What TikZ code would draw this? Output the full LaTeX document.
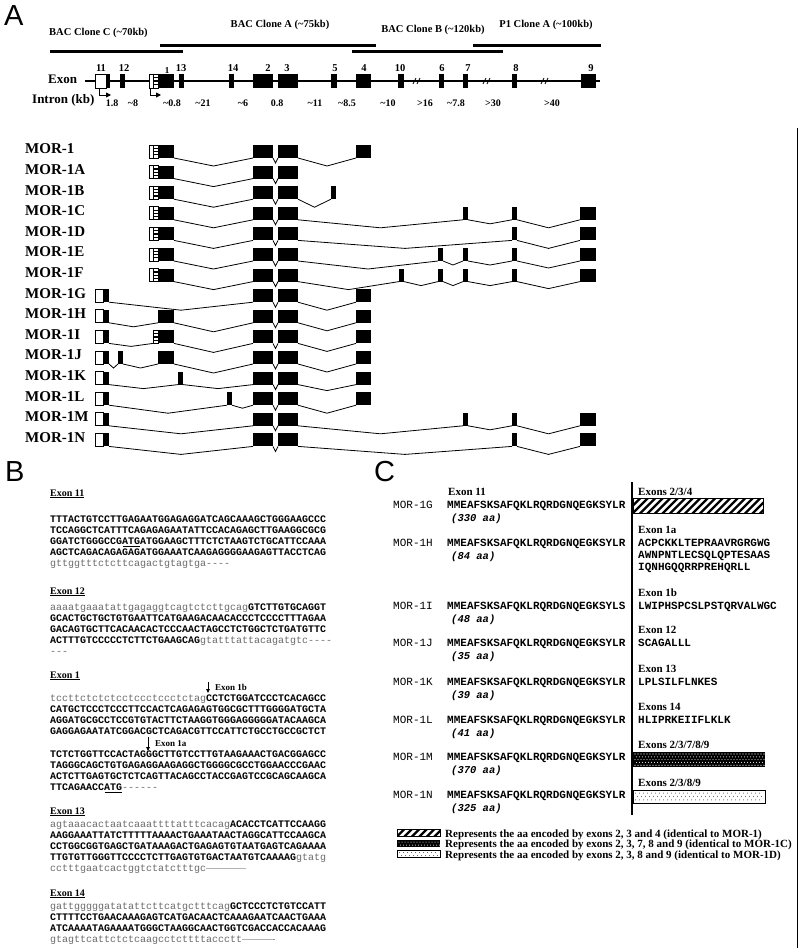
\documentclass[tikz,border=0pt]{standalone}
\usepackage{fontspec}
\setmainfont{Liberation Serif}
\setmonofont{Liberation Mono}
\newfontfamily\sfL{Liberation Sans}
\usetikzlibrary{arrows.meta}
\definecolor{intgray}{gray}{0.42}
\newcommand\fs[1]{\fontsize{#1}{#1}\selectfont}
\newcommand\gr[1]{{\mdseries\color{intgray}#1}}
\newcommand\mbx[2]{\fill (#1,0) rectangle (#2,13);}
\newcommand\mlk[3]{\draw[intr] (#1,13) -- ({(#1+#2)/2},{13+#3}) -- (#2,13);}
\newcommand\eEl{\draw[exo] (95,0) rectangle (103,13); \fill (103,0) rectangle (109,13);}
\newcommand\hatchE[2]{\draw[exo] (#1,0) rectangle (158,13); \draw[exo] (#2,0) -- (#2,13); \foreach \yy in {3.3,6.5,9.7} {\draw[line width=1.2pt] (#2,\yy) -- (158,\yy);}}
\newcommand\eOneH{\hatchE{149}{153}\fill (158,0) rectangle (174,13);}
\newcommand\eTT{\mbx{253}{273}\mbx{278}{298}\mlk{273}{278}{5}}
\newcommand\mrow[2]{\begin{scope}[shift={(0,{145+20.6*#1})}]#2\end{scope}}
\newcommand\hatchbox[4]{\begin{scope}\clip (#1,#2) rectangle (#3,#4);
  \foreach \k in {0,...,22} {\draw[line width=2.2pt] ({#1-16+7.5*\k},{#4+1}) -- ++(17,-17);}
  \end{scope}\draw[line width=0.8pt] (#1,#2) rectangle (#3,#4);}
\begin{document}
\begin{tikzpicture}[x=1pt,y=-1pt,
  lab/.style={inner sep=0pt,anchor=base west},
  cen/.style={inner sep=0pt,anchor=center},
  exo/.style={draw=black,line width=0.8pt,fill=white},
  intr/.style={line width=0.8pt},
  clone/.style={cen,font=\bfseries\fs{10.5}},
  enum/.style={cen,font=\bfseries\fs{10.5}},
  inum/.style={cen,font=\bfseries\fs{10}},
  trl/.style={inner sep=0pt,anchor=west,font=\bfseries\fs{15}},
  hdr/.style={lab,font=\bfseries\fs{10}},
  sq/.style={lab,font=\ttfamily\bfseries\fs{10}},
  cn/.style={lab,font=\ttfamily\fs{11}},
  cb/.style={lab,font=\ttfamily\bfseries\fs{11}},
  ci/.style={lab,font=\ttfamily\bfseries\itshape\fs{10.5}},
  ch/.style={lab,font=\bfseries\fs{11}},
  leg/.style={lab,font=\bfseries\fs{11}},
  pl/.style={lab,font=\sfL\fs{29}}]
\useasboundingbox (0,0) rectangle (800,948);
\fill[white] (0,0) rectangle (800,948);
\draw[line width=1.5pt] (797.5,128) -- (797.5,948);
% ---------- Panel A ----------
\node[pl] (pA) at (4,25) {A};
\node[clone] (cC) at (98.5,33) {BAC Clone C (\textasciitilde70kb)};
\node[clone] (cA) at (280,25) {BAC Clone A (\textasciitilde75kb)};
\node[clone] (cB) at (433,30) {BAC Clone B (\textasciitilde120kb)};
\node[clone] (cP) at (546,25) {P1 Clone A (\textasciitilde100kb)};
\draw[line width=3pt] (50,51) -- (183,51);
\draw[line width=3pt] (160,45) -- (376,45);
\draw[line width=3pt] (352,51) -- (503,51);
\draw[line width=3pt] (473,45) -- (601,45);
\node[inner sep=0pt,anchor=west,font=\bfseries\fs{13}] (lex) at (48,79) {Exon};
\node[inner sep=0pt,anchor=west,font=\bfseries\fs{13}] (lin) at (32,100) {Intron (kb)};
\draw[line width=1.1pt] (85,81) -- (600,81);
\foreach \xx in {417,487,545} {\draw[line width=0.8pt] (\xx-4,84) -- (\xx-1,78); \draw[line width=0.8pt] (\xx,84) -- (\xx+3,78);}
\draw[exo] (95,74) rectangle (106,88); \fill (106,74) rectangle (110,88);
\fill (120,74) rectangle (125,88);
\draw[exo] (149,74) rectangle (158,88); \draw[exo] (153,74) -- (153,88);
\foreach \yy in {77.5,81,84.5} {\draw[line width=1.2pt] (153,\yy) -- (158,\yy);}
\fill (158,74) rectangle (174,88);
\foreach \a/\b in {179/184,229/234,253/273,278/298,331/337,356/371,398/404,439/444,463/468,512/517,581/596} {\fill (\a,74) rectangle (\b,88);}
\draw[line width=0.9pt,-{Triangle[length=5pt,width=5pt]}] (99,88) -- (99,95) -- (111,95);
\draw[line width=0.9pt,-{Triangle[length=5pt,width=5pt]}] (150,88) -- (150,95) -- (161,95);
\node[enum] (x11) at (101,68) {11};
\node[enum] (x12) at (124,68) {12};
\node[cen,font=\bfseries\fs{9}] (x1) at (167,71) {1};
\node[enum] (x13) at (181,68) {13};
\node[enum] (x14) at (233,68) {14};
\node[enum] (x2) at (268,68) {2};
\node[enum] (x3) at (287,68) {3};
\node[enum] (x5) at (335,68) {5};
\node[enum] (x4) at (364,68) {4};
\node[enum] (x10) at (400,68) {10};
\node[enum] (x6) at (442,68) {6};
\node[enum] (x7) at (468,68) {7};
\node[enum] (x8) at (516,68) {8};
\node[enum] (x9) at (591,68) {9};
\node[inum] (i1) at (112,103) {1.8};
\node[inum] (i2) at (133,103) {\textasciitilde8};
\node[inum] (i3) at (172,103) {\textasciitilde0.8};
\node[inum] (i4) at (203,103) {\textasciitilde21};
\node[inum] (i5) at (243,103) {\textasciitilde6};
\node[inum] (i6) at (277,103) {0.8};
\node[inum] (i7) at (315,103) {\textasciitilde11};
\node[inum] (i8) at (347,103) {\textasciitilde8.5};
\node[inum] (i9) at (388,103) {\textasciitilde10};
\node[inum] (i10) at (425,103) {>16};
\node[inum] (i11) at (456,103) {\textasciitilde7.8};
\node[inum] (i12) at (493,103) {>30};
\node[inum] (i13) at (552,103) {>40};
% transcripts
\foreach \n/\t [count=\i from 0] in {1/MOR-1,2/MOR-1A,3/MOR-1B,4/MOR-1C,5/MOR-1D,6/MOR-1E,7/MOR-1F,8/MOR-1G,9/MOR-1H,10/MOR-1I,11/MOR-1J,12/MOR-1K,13/MOR-1L,14/MOR-1M,15/MOR-1N}
  {\node[trl] (tr\n) at (25,{145+20.6*\i+4}) {\t};}
\mrow{0}{\eOneH\eTT\mbx{356}{371}\mlk{174}{253}{8}\mlk{298}{356}{8}}
\mrow{1}{\eOneH\eTT\mlk{174}{253}{8}}
\mrow{2}{\eOneH\eTT\mbx{331}{336}\mlk{174}{253}{8}\mlk{298}{331}{8}}
\mrow{3}{\eOneH\eTT\mbx{463}{468}\mbx{512}{517}\mbx{580}{596}\mlk{174}{253}{8}\mlk{298}{463}{8}\mlk{468}{512}{4}\mlk{517}{580}{8}}
\mrow{4}{\eOneH\eTT\mbx{512}{517}\mbx{580}{596}\mlk{174}{253}{8}\mlk{298}{512}{8}\mlk{517}{580}{8}}
\mrow{5}{\eOneH\eTT\mbx{438}{443}\mbx{463}{468}\mbx{512}{517}\mbx{580}{596}\mlk{174}{253}{8}\mlk{298}{438}{8}\mlk{443}{463}{4}\mlk{468}{512}{4}\mlk{517}{580}{7}}
\mrow{6}{\eOneH\eTT\mbx{399}{404}\mbx{438}{443}\mbx{463}{468}\mbx{512}{517}\mbx{580}{596}\mlk{174}{253}{8}\mlk{298}{399}{8}\mlk{404}{438}{4}\mlk{443}{463}{4}\mlk{468}{512}{4}\mlk{517}{580}{7}}
\mrow{7}{\eEl\eTT\mbx{356}{371}\mlk{109}{253}{8}\mlk{298}{356}{8}}
\mrow{8}{\eEl\mbx{158}{174}\eTT\mbx{356}{371}\mlk{109}{158}{4}\mlk{174}{253}{9}\mlk{298}{356}{8}}
\mrow{9}{\eEl\hatchE{153}{153}\mbx{158}{174}\eTT\mbx{356}{371}\mlk{109}{153}{3}\mlk{174}{253}{9}\mlk{298}{356}{8}}
\mrow{10}{\eEl\mbx{118}{123}\mbx{158}{174}\eTT\mbx{356}{371}\mlk{109}{118}{4}\mlk{123}{158}{4}\mlk{174}{253}{9}\mlk{298}{356}{8}}
\mrow{11}{\eEl\mbx{178}{183}\eTT\mbx{356}{371}\mlk{109}{178}{4}\mlk{183}{253}{4}\mlk{298}{356}{6}}
\mrow{12}{\eEl\mbx{227}{232}\eTT\mbx{356}{371}\mlk{109}{227}{8}\mlk{232}{253}{3}\mlk{298}{356}{8}}
\mrow{13}{\eEl\eTT\mbx{463}{468}\mbx{512}{517}\mbx{580}{596}\mlk{109}{253}{8}\mlk{298}{463}{8}\mlk{468}{512}{4}\mlk{517}{580}{8}}
\mrow{14}{\eEl\eTT\mbx{512}{517}\mbx{580}{596}\mlk{109}{253}{8}\mlk{298}{512}{8}\mlk{517}{580}{8}}
% ---------- Panel B ----------
\node[pl] (pB) at (5,481) {B};
\node[hdr] (h11) at (50,496) {\underline{Exon 11}};
\node[sq] (b1) at (50,522) {TTTACTGTCCTTGAGAATGGAGAGGATCAGCAAAGCTGGGAAGCCC};
\node[sq] (b2) at (50,533) {TCCAGGCTCATTTCAGAGAGAATATTCCACAGAGCTTGAAGGCGCG};
\node[sq] (b3) at (50,544) {GGATCTGGGCCGATGATGGAAGCTTTCTCTAAGTCTGCATTCCAAA};
\draw[line width=0.8pt] (122.5,546.5) -- (140,546.5);
\node[sq] (b4) at (50,555) {AGCTCAGACAGAGAGATGGAAATCAAGAGGGGAAGAGTTACCTCAG};
\node[sq] (b5) at (50,566) {\gr{gttggtttctcttcagactgtagtga----}};
\node[hdr] (h12) at (50,594) {\underline{Exon 12}};
\node[sq] (c1) at (50,610) {\gr{aaaatgaaatattgagaggtcagtctcttgcag}GTCTTGTGCAGGT};
\node[sq] (c2) at (50,621) {GCACTGCTGCTGTGAATTCATGAAGACAACACCCTCCCCTTTAGAA};
\node[sq] (c3) at (50,632) {GACAGTGCTTCACAACACTCCCAACTAGCCTCTGGCTCTGATGTTC};
\node[sq] (c4) at (50,643) {ACTTTGTCCCCCTCTTCTGAAGCAG\gr{gtatttattacagatgtc----}};
\node[sq] (c5) at (50,654) {\gr{---}};
\node[hdr] (h1) at (50,678) {\underline{Exon 1}};
\draw[line width=0.8pt,-{Triangle[length=4pt,width=3.5pt]}] (208,682) -- (208,693);
\node[lab,font=\bfseries\fs{9}] (l1b) at (215,690) {Exon 1b};
\node[sq] (d1) at (50,701) {\gr{tccttctctctcctccctccctctag}CCTCTGGATCCCTCACAGCC};
\node[sq] (d2) at (50,712) {CATGCTCCCTCCCTTCCACTCAGAGAGTGGCGCTTTGGGGATGCTA};
\node[sq] (d3) at (50,723) {AGGATGCGCCTCCGTGTACTTCTAAGGTGGGAGGGGGATACAAGCA};
\node[sq] (d4) at (50,734) {GAGGAGAATATCGGACGCTCAGACGTTCCATTCTGCCTGCCGCTCT};
\draw[line width=0.8pt,-{Triangle[length=4pt,width=3.5pt]}] (148,737) -- (148,751);
\node[lab,font=\bfseries\fs{9}] (l1a) at (155,746) {Exon 1a};
\node[sq] (d5) at (50,757) {TCTCTGGTTCCACTAGGGCTTGTCCTTGTAAGAAACTGACGGAGCC};
\node[sq] (d6) at (50,768) {TAGGGCAGCTGTGAGAGGAAGAGGCTGGGGCGCCTGGAACCCGAAC};
\node[sq] (d7) at (50,779) {ACTCTTGAGTGCTCTCAGTTACAGCCTACCGAGTCCGCAGCAAGCA};
\node[sq] (d8) at (50,790) {TTCAGAACCATG\gr{------}};
\draw[line width=0.8pt] (104.5,792.5) -- (122,792.5);
\node[hdr] (h13) at (50,814) {\underline{Exon 13}};
\node[sq] (e1) at (50,827) {\gr{agtaaacactaatcaaattttatttcacag}ACACCTCATTCCAAGG};
\node[sq] (e2) at (50,838) {AAGGAAATTATCTTTTTAAAACTGAAATAACTAGGCATTCCAAGCA};
\node[sq] (e3) at (50,849) {CCTGGCGGTGAGCTGATAAAGACTGAGAGTGTAATGAGTCAGAAAA};
\node[sq] (e4) at (50,860) {TTGTGTTGGGTTCCCCTCTTGAGTGTGACTAATGTCAAAAG\gr{gtatg}};
\node[sq] (e5) at (50,871) {\gr{cctttgaatcactggtctatctttgc{\rmfamily------------}}};
\node[hdr] (h14) at (50,896) {\underline{Exon 14}};
\node[sq] (f1) at (50,909) {\gr{gattgggggatatattcttcatgctttcag}GCTCCCTCTGTCCATT};
\node[sq] (f2) at (50,920) {CTTTTCCTGAACAAAGAGTCATGACAACTCAAAGAATCAACTGAAA};
\node[sq] (f3) at (50,931) {ATCAAAATAGAAAATGGGCTAAGGCAACTGGTCGACCACCACAAAG};
\node[sq] (f4) at (50,942) {\gr{gtagttcattctctcaagcctcttttaccctt{\rmfamily----------}}};
% ---------- Panel C ----------
\node[pl] (pC) at (374,481) {C};
\draw[line width=2pt] (632,482) -- (632,815);
\node[ch] (cx11) at (448,495.5) {Exon 11};
\node[ch] (cx234) at (638,495.5) {Exons 2/3/4};
\hatchbox{633}{498}{763}{513}
\foreach \nm/\sq/\aa/\yy in {MOR-1G/MMEAFSKSAFQKLRQRDGNQEGKSYLR/330/508.5,MOR-1H/MMEAFSKSAFQKLRQRDGNQEGKSYLR/84/546.5,MOR-1I/MMEAFSKSAFQKLRQRDGNQEGKSYLS/48/609.5,MOR-1J/MMEAFSKSAFQKLRQRDGNQEGKSYLR/35/646.5,MOR-1K/MMEAFSKSAFQKLRQRDGNQEGKSYLR/39/685.5,MOR-1L/MMEAFSKSAFQKLRQRDGNQEGKSYLR/41/723.5,MOR-1M/MMEAFSKSAFQKLRQRDGNQEGKSYLR/370/760.5,MOR-1N/MMEAFSKSAFQKLRQRDGNQEGKSYLR/325/798.5}
  {\node[cn] (n\nm) at (393,\yy) {\nm};
   \node[cb] (s\nm) at (447,\yy) {\sq};
   \node[ci] (a\nm) at (451,\yy+13) {(\aa\ aa)};}
\node[ch] (c1a) at (638,533.5) {Exon 1a};
\node[cb] (q1a1) at (638,546.5) {ACPCKKLTEPRAAVRGRGWG};
\node[cb] (q1a2) at (638,558.5) {AWNPNTLECSQLQPTESAAS};
\node[cb] (q1a3) at (638,570.5) {IQNHGQQRRPREHQRLL};
\node[ch] (c1b) at (638,596.5) {Exon 1b};
\node[cb] (q1b) at (638,609.5) {LWIPHSPCSLPSTQRVALWGC};
\node[ch] (c12) at (638,633.5) {Exon 12};
\node[cb] (q12) at (638,646.5) {SCAGALLL};
\node[ch] (c13) at (638,672.5) {Exon 13};
\node[cb] (q13) at (638,685.5) {LPLSILFLNKES};
\node[ch] (c14) at (638,710.5) {Exons 14};
\node[cb] (q14) at (638,723.5) {HLIPRKEIIFLKLK};
\node[ch] (c7) at (638,748.5) {Exons 2/3/7/8/9};
\fill (633,752) rectangle (765,767);
\foreach \i in {0,...,43} {\foreach \j in {0,...,4} {\fill[white] ({635+3*\i+1.5*mod(\j,2)},{754+2.8*\j}) circle (0.55);}}
\node[ch] (c8) at (638,786.5) {Exons 2/3/8/9};
\draw[line width=0.8pt,fill=white] (633,790) rectangle (765,803);
\foreach \i in {0,...,31} {\foreach \j in {0,1,2} {\fill[black!70] ({635.5+4*\i+2*mod(\j,2)},{793+3.4*\j}) circle (0.5);}}
% legend
\hatchbox{397}{829.5}{440}{836.5}
\node[leg] (lg1) at (445,837) {Represents the aa encoded by exons 2, 3 and 4 (identical to MOR-1)};
\fill (397,840) rectangle (440,847);
\foreach \i in {0,...,13} {\foreach \j in {0,1} {\fill[white] ({399+3*\i+1.5*\j},{842+3*\j}) circle (0.5);}}
\node[leg] (lg2) at (445,847.5) {Represents the aa encoded by exons 2, 3, 7, 8 and 9 (identical to MOR-1C)};
\draw[line width=0.8pt,fill=white] (397,850.5) rectangle (440,857.5);
\foreach \i in {0,...,9} {\foreach \j in {0,1} {\fill[black!70] ({399.5+4*\i+2*\j},{852.5+3*\j}) circle (0.5);}}
\node[leg] (lg3) at (445,858) {Represents the aa encoded by exons 2, 3, 8 and 9 (identical to MOR-1D)};
\end{tikzpicture}
\end{document}
